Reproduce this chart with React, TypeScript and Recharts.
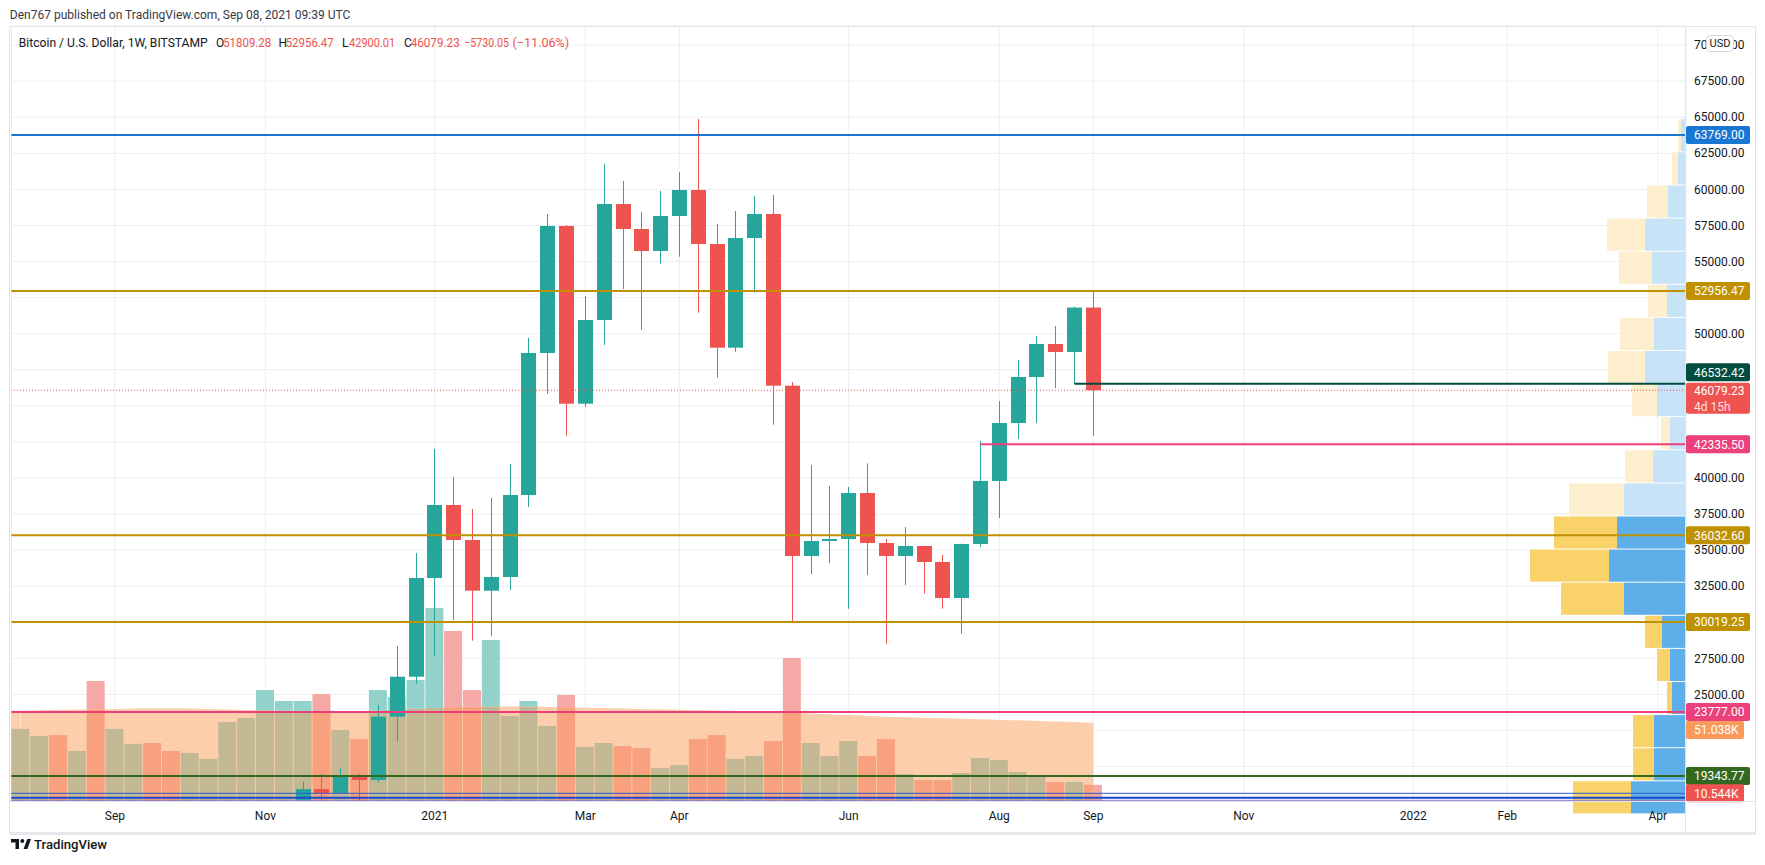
import React from 'react';
import { ComposedChart, Bar, Area, XAxis, YAxis, CartesianGrid, ReferenceLine, ReferenceArea } from 'recharts';

const WEEKS = ['2020-08-03','2020-08-10','2020-08-17','2020-08-24','2020-08-31','2020-09-07','2020-09-14','2020-09-21','2020-09-28','2020-10-05','2020-10-12','2020-10-19','2020-10-26','2020-11-02','2020-11-09','2020-11-16','2020-11-23','2020-11-30','2020-12-07','2020-12-14','2020-12-21','2020-12-28','2021-01-04','2021-01-11','2021-01-18','2021-01-25','2021-02-01','2021-02-08','2021-02-15','2021-02-22','2021-03-01','2021-03-08','2021-03-15','2021-03-22','2021-03-29','2021-04-05','2021-04-12','2021-04-19','2021-04-26','2021-05-03','2021-05-10','2021-05-17','2021-05-24','2021-05-31','2021-06-07','2021-06-14','2021-06-21','2021-06-28','2021-07-05','2021-07-12','2021-07-19','2021-07-26','2021-08-02','2021-08-09','2021-08-16','2021-08-23','2021-08-30','2021-09-06'];
const FUTURE_WEEKS = ['2021-09-13','2021-09-20','2021-09-27','2021-10-04','2021-10-11','2021-10-18','2021-10-25','2021-11-01','2021-11-08','2021-11-15','2021-11-22','2021-11-29','2021-12-06','2021-12-13','2021-12-20','2021-12-27','2022-01-03','2022-01-10','2022-01-17','2022-01-24','2022-01-31','2022-02-07','2022-02-14','2022-02-21','2022-02-28','2022-03-07','2022-03-14','2022-03-21','2022-03-28','2022-04-04','2022-04-11'];

const OPEN = [11070,11680,11850,11650,11700,10250,10330,10930,10770,10680,11380,11500,13030,13780,15480,15960,18445,18170,19330,19068,23455,26227,33067,38126,35701,32187,33136,38819,48660,57461,45146,50947,58986,57253,55728,58154,59956,56214,49027,56629,58293,46394,34592,35631,35770,38958,35492,34592,35285,34176,31681,35423,39789,43809,46997,49283,48729,51809.28];
const HIGH = [11900,12090,12470,11800,12090,10600,11050,10990,10950,11480,11730,13350,14060,15960,16480,18930,19485,19900,19485,24266,28355,34800,42007,40067,37848,38611,40967,49700,58292,57530,52610,61758,60580,58431,59894,61203,64876,57600,58500,59540,59609,46650,40898,39443,39373,41014,35770,36601,35300,34661,35450,42561,45332,48175,49838,50531,51870,52956.47];
const LOW = [10950,11150,11420,11130,9880,9880,10220,10140,10370,10530,11200,11410,12900,13220,14850,15800,16200,18100,17600,18880,21770,25742,27662,30157,28722,29048,32235,37988,45839,42929,44938,49214,53095,50254,54848,55333,51453,46948,48750,52839,43691,30039,33345,34106,30939,33275,28514,32582,31998,30939,29207,35215,37225,42700,43809,46234,46532,42900.01];
const CLOSE = [11680,11850,11650,11700,10250,10330,10930,10770,10680,11380,11500,13030,13780,15480,15960,18445,18170,19330,19068,23455,26227,33067,38126,35701,32187,33136,38819,48660,57461,45146,50947,58986,57253,55728,58154,59956,56214,49027,56629,58293,46394,34592,35631,35770,38958,35492,34592,35285,34176,31681,35423,39789,43809,46997,49283,48729,51809.28,46079.23];
// weekly volume, thousands
const VOLUME = [47.1,42.5,43.1,32.7,78.4,47.1,37.3,37.9,32.7,31.4,27.5,51.6,54.2,72.5,65.4,65.4,69.9,46.4,40.5,72.5,68.0,79.1,126.1,111.1,72.5,105.2,55.6,65.4,49.0,69.3,35.3,37.9,35.9,34.6,21.6,23.5,40.5,43.1,27.5,29.4,39.2,93.5,37.9,29.4,39.2,29.4,40.5,17.6,13.7,13.7,18.3,28.1,26.8,19.0,16.3,12.4,12.4,10.544];
const VOLUME_MA = [59.0,59.3,59.6,59.8,60.0,60.2,60.4,60.6,60.6,60.5,60.2,59.8,59.5,59.2,59.0,58.8,58.6,58.5,58.6,59.0,59.6,60.2,60.8,61.3,61.6,61.8,61.8,61.7,61.5,61.3,61.0,60.7,60.4,60.1,59.9,59.7,59.5,59.1,58.8,58.4,58.0,57.7,57.2,56.7,56.2,55.7,55.1,54.8,54.4,54.1,53.8,53.4,53.0,52.7,52.3,52.0,51.6,51.038];

const TICK_LABELS: Record<string, string> = {
  '2020-09-07': 'Sep', '2020-11-02': 'Nov', '2021-01-04': '2021', '2021-03-01': 'Mar', '2021-04-05': 'Apr', '2021-06-07': 'Jun',
  '2021-08-02': 'Aug', '2021-09-06': 'Sep', '2021-11-01': 'Nov', '2022-01-03': '2022', '2022-02-07': 'Feb', '2022-04-04': 'Apr',
};
const X_TICKS = Object.keys(TICK_LABELS);
const PRICE_TICKS = [20000,22500,25000,27500,30000,32500,35000,37500,40000,42500,45000,47500,50000,52500,55000,57500,60000,62500,65000,67500,70000];
const HIDDEN_PRICE_TICKS = [20000,22500,30000,42500,45000,47500,52500];

// visible-range volume profile: row boundaries (price), up / down volume per row
const PROFILE_LEVELS = [64893,62599,60305,58011,55717,53423,51129,48835,46541,44247,41953,39659,37365,35071,32777,30483,28189,25895,23601,21307,19013,16719];
const PROFILE_UP = [5,8,18,41,34,19,32,41,29,16,33,62,69,77,62,24,16,14,32,32,55];
const PROFILE_DOWN = [3,6,21,38,33,19,34,37,25,9,28,55,63,79,63,17,13,5,21,21,58];
const VALUE_AREA_FIRST_ROW = 12;

const LEVEL_TOP = 63769.0;
const LEVEL_WEEK_HIGH = 52956.47;
const LEVEL_RAY_HIGH = 46532.42;
const LAST_PRICE = 46079.23;
const LEVEL_RAY_LOW = 42335.5;
const LEVEL_36 = 36032.6;
const LEVEL_30 = 30019.25;
const LEVEL_23 = 23777.0;
const LEVEL_19 = 19343.77;
const LEVEL_18A = 18146;
const LEVEL_18B = 17842;
const LEVEL_17 = 17660;
const LAST_VOLUME = 10.544;
const LAST_VOLUME_MA = 51.038;

const P_MIN = 17613;
const P_MAX = 71321;
const VOL_MAX = 506.5;
const PROFILE_SPAN = 1675;

const DATA: any[] = [
  ...WEEKS.map((d, i) => ({
    d, o: OPEN[i], h: HIGH[i], l: LOW[i], c: CLOSE[i], hl: [LOW[i], HIGH[i]],
    v: VOLUME[i], ma: VOLUME_MA[i], first: i === 0, last: i === WEEKS.length - 1,
  })),
  ...FUTURE_WEEKS.map((d) => ({ d })),
];
const LAST_CAT = FUTURE_WEEKS[FUTURE_WEEKS.length - 1];

const FONT = 'Roboto, "Noto Sans", sans-serif';
const UP = '#26a69a';
const DOWN = '#ef5350';
const MA_FILL = '#fdceab';

const CandleShape = (props: any) => {
  const { x, y, width, height, payload } = props;
  if (!payload || payload.o == null || !isFinite(y) || !isFinite(height)) return <g />;
  const top = Math.min(y, y + height);
  const span = Math.abs(height);
  const k = span / (payload.h - payload.l);
  const yO = top + (payload.h - payload.o) * k;
  const yC = top + (payload.h - payload.c) * k;
  const col = payload.c >= payload.o ? UP : DOWN;
  const x0 = Math.round(x);
  const w = Math.round(width);
  const cx = x0 + Math.floor(w / 2) + 0.5;
  const bTop = Math.min(yO, yC);
  const bH = Math.max(1, Math.abs(yC - yO));
  return (
    <g>
      <line x1={cx} x2={cx} y1={top} y2={top + span} stroke={col} strokeWidth={1} />
      <rect x={x0} y={bTop} width={w} height={bH} fill={col} />
    </g>
  );
};

const VolShape = (props: any) => {
  const { x, y, width, height, payload } = props;
  if (!payload || payload.v == null || !isFinite(y) || !isFinite(height)) return <g />;
  const top = Math.min(y, y + height);
  const span = Math.abs(height);
  const base = top + span;
  const k = span / payload.v;
  const yMa = base - payload.ma * k;
  const up = payload.c >= payload.o;
  const light = up ? '#93d1cb' : '#f6a8a6';
  const dark = up ? '#c2b894' : '#f9a17e';
  const split = Math.max(top, Math.min(base, yMa));
  if (payload.last) {
    return (
      <g>
        <rect x={x} y={top} width={width / 2} height={span} fill={dark} />
        <rect x={x + width / 2} y={top} width={width / 2} height={span} fill={light} />
      </g>
    );
  }
  return (
    <g>
      {payload.first && <rect x={x - 0.5} y={yMa} width={width / 2 + 0.5} height={base - yMa} fill={MA_FILL} />}
      {split > top && <rect x={x} y={top} width={width} height={split - top} fill={light} />}
      {base > split && <rect x={x} y={split} width={width} height={base - split} fill={dark} />}
    </g>
  );
};

const ProfileRect = (p: any) => (
  <rect x={p.x} y={p.y + 0.5} width={p.width} height={Math.max(0, p.height - 1)} fill={p.fill} />
);

const Tag = (props: any) => {
  const { viewBox, text, sub, bg, dy = 0, w = 64 } = props;
  if (!viewBox) return null;
  const x = viewBox.x + viewBox.width;
  const yc = viewBox.y + dy;
  if (sub) {
    return (
      <g>
        <rect x={x} y={yc - 7.5} width={w} height={31} rx={2} fill={bg} />
        <text x={x + 8} y={yc + 4.3} fontSize={12} fontFamily={FONT} fill="#fff">{text}</text>
        <text x={x + 8} y={yc + 20.5} fontSize={12} fontFamily={FONT} fill="#fff" fillOpacity={0.85}>{sub}</text>
      </g>
    );
  }
  return (
    <g>
      <rect x={x} y={yc - 9} width={w} height={18} rx={2} fill={bg} />
      <text x={x + 8} y={yc + 4.3} fontSize={12} fontFamily={FONT} fill="#fff">{text}</text>
    </g>
  );
};

const RayShape = (p: any) => (
  <line x1={p.x1} y1={p.y1} x2={p.x2 + 9.5} y2={p.y2} stroke={p.stroke} strokeWidth={p.strokeWidth} />
);

const XTick = (props: any) => {
  const { x, payload } = props;
  return (
    <text x={x} y={820} textAnchor="middle" fontSize={12} fontFamily={FONT} fill="#131722">
      {TICK_LABELS[payload.value] || ''}
    </text>
  );
};

const YTick = (props: any) => {
  const { x, y, payload } = props;
  if (HIDDEN_PRICE_TICKS.includes(payload.value)) return <g />;
  return (
    <text x={x} y={y + 4.2} textAnchor="start" fontSize={12} fontFamily={FONT} fill="#131722">
      {Number(payload.value).toFixed(2)}
    </text>
  );
};

function Overlay() {
  const t = { fontFamily: FONT, fontSize: 12 } as any;
  return (
    <svg width={1765} height={865} style={{ position: 'absolute', left: 0, top: 0, pointerEvents: 'none' }}>
      <text x={9.8} y={19} {...t} fontSize={12.5} fill="#363a45" textLength={340.6} lengthAdjust="spacingAndGlyphs">
        Den767 published on TradingView.com, Sep 08, 2021 09:39 UTC
      </text>
      <line x1={9} y1={26.5} x2={1756} y2={26.5} stroke="#e0e3eb" />
      <line x1={9.5} y1={26} x2={9.5} y2={833} stroke="#e0e3eb" />
      <line x1={1755.5} y1={26} x2={1755.5} y2={833} stroke="#e0e3eb" />
      <line x1={9} y1={801.5} x2={1756} y2={801.5} stroke="#e0e3eb" />
      <line x1={1685.5} y1={26} x2={1685.5} y2={832} stroke="#e0e3eb" />
      <rect x={9} y={832} width={1747} height={3} fill="#e6e8ed" />

      <text x={18.75} y={47} {...t} fill="#131722" textLength={189} lengthAdjust="spacingAndGlyphs">Bitcoin / U.S. Dollar, 1W, BITSTAMP</text>
      <text x={216} y={47} {...t} fill="#131722">O</text>
      <text x={223.2} y={47} {...t} fill={DOWN} textLength={48} lengthAdjust="spacingAndGlyphs">51809.28</text>
      <text x={278.6} y={47} {...t} fill="#131722">H</text>
      <text x={285.7} y={47} {...t} fill={DOWN} textLength={48} lengthAdjust="spacingAndGlyphs">52956.47</text>
      <text x={342} y={47} {...t} fill="#131722">L</text>
      <text x={349.1} y={47} {...t} fill={DOWN} textLength={46} lengthAdjust="spacingAndGlyphs">42900.01</text>
      <text x={404} y={47} {...t} fill="#131722">C</text>
      <text x={410.7} y={47} {...t} fill={DOWN} textLength={49} lengthAdjust="spacingAndGlyphs">46079.23</text>
      <text x={464.3} y={47} {...t} fill={DOWN} textLength={44.6} lengthAdjust="spacingAndGlyphs">−5730.05</text>
      <text x={512.5} y={47} {...t} fill={DOWN} textLength={56.7} lengthAdjust="spacingAndGlyphs">(−11.06%)</text>

      <rect x={1706.5} y={35.5} width={27} height={16} rx={4} fill="#ffffff" stroke="#d1d4dc" />
      <text x={1720} y={47.3} textAnchor="middle" fontFamily={FONT} fontSize={11} fill="#131722">USD</text>

      <g fill="#131722">
        <path d="M11 839 H19 V849 H15.5 V842.5 H11 Z" />
        <circle cx={22.3} cy={841} r={2} />
        <path d="M23.6 849 L27.2 839 H31 L27.4 849 Z" />
      </g>
      <text x={34} y={848.5} fontFamily={FONT} fontSize={13} fontWeight={500} fill="#131722" textLength={73} lengthAdjust="spacingAndGlyphs">TradingView</text>
    </svg>
  );
}

export default function App() {
  return (
    <div style={{ position: 'absolute', left: 0, top: 0, width: 1765, height: 865, background: '#ffffff', overflow: 'hidden' }}>
      <div style={{ position: 'absolute', left: 0, top: 0 }}>
        <ComposedChart width={1765} height={865} data={DATA} margin={{ top: 26, right: 10, bottom: 33, left: 11.4 }}>
          <CartesianGrid xAxisId="x" yAxisId="price" stroke="#eceef2" strokeWidth={1} />
          <XAxis xAxisId="x" dataKey="d" ticks={X_TICKS} interval={0} tick={XTick} tickLine={false} axisLine={false} height={31} />
          <XAxis xAxisId="v" dataKey="d" hide />
          <XAxis xAxisId="prof" dataKey="profileVolume" type="number" domain={[0, PROFILE_SPAN]} reversed allowDataOverflow hide />
          <YAxis yAxisId="price" orientation="right" domain={[P_MIN, P_MAX]} allowDataOverflow ticks={PRICE_TICKS} interval={0}
            tick={YTick} tickLine={false} tickSize={0} tickMargin={8} axisLine={false} width={69} />
          <YAxis yAxisId="vol" domain={[0, VOL_MAX]} allowDataOverflow hide />

          <Area xAxisId="v" yAxisId="vol" dataKey="ma" type="monotone" fill={MA_FILL} fillOpacity={1} stroke="none" isAnimationActive={false} dot={false} activeDot={false} />
          <Bar xAxisId="v" yAxisId="vol" dataKey="v" barSize={18} shape={VolShape} isAnimationActive={false} />
          <Bar xAxisId="x" yAxisId="price" dataKey="hl" barSize={15} shape={CandleShape} isAnimationActive={false} />

          {PROFILE_UP.map((u, i) => (
            <ReferenceArea key={'pu' + i} xAxisId="prof" yAxisId="price" x1={0} x2={u}
              y1={PROFILE_LEVELS[i + 1]} y2={PROFILE_LEVELS[i]} ifOverflow="hidden"
              fill={i >= VALUE_AREA_FIRST_ROW ? '#5eaeea' : '#c7e3f7'} fillOpacity={1} stroke="none" shape={ProfileRect} />
          ))}
          {PROFILE_DOWN.map((dn, i) => (
            <ReferenceArea key={'pd' + i} xAxisId="prof" yAxisId="price" x1={PROFILE_UP[i]} x2={PROFILE_UP[i] + dn}
              y1={PROFILE_LEVELS[i + 1]} y2={PROFILE_LEVELS[i]} ifOverflow="hidden"
              fill={i >= VALUE_AREA_FIRST_ROW ? '#f9d36a' : '#fdefcd'} fillOpacity={1} stroke="none" shape={ProfileRect} />
          ))}

          <ReferenceLine xAxisId="x" yAxisId="price" y={LEVEL_18A} stroke="#2a5bd0" strokeWidth={1} zIndex={450} />
          <ReferenceLine xAxisId="x" yAxisId="price" y={LEVEL_18B} stroke="#1848cc" strokeWidth={2} zIndex={450} />
          <ReferenceLine xAxisId="x" yAxisId="price" y={LEVEL_17} stroke="#8c76c9" strokeWidth={1} zIndex={450} />
          <ReferenceLine xAxisId="x" yAxisId="price" y={LAST_PRICE} stroke={DOWN} strokeWidth={1} strokeDasharray="1 2" zIndex={450}
            label={(p: any) => <Tag {...p} text="46079.23" sub="4d 15h" bg={DOWN} />} />
          <ReferenceLine xAxisId="x" yAxisId="price" segment={[{ x: '2021-08-30', y: LEVEL_RAY_HIGH }, { x: LAST_CAT, y: LEVEL_RAY_HIGH }]}
            stroke="#004d40" strokeWidth={2} shape={RayShape} zIndex={450} />
          <ReferenceLine xAxisId="x" yAxisId="price" y={LEVEL_RAY_HIGH} stroke="none" zIndex={450}
            label={(p: any) => <Tag {...p} text="46532.42" bg="#004d40" dy={-11.4} />} />
          <ReferenceLine xAxisId="x" yAxisId="price" segment={[{ x: '2021-07-26', y: LEVEL_RAY_LOW }, { x: LAST_CAT, y: LEVEL_RAY_LOW }]}
            stroke="#ec407a" strokeWidth={2} shape={RayShape} zIndex={450} />
          <ReferenceLine xAxisId="x" yAxisId="price" y={LEVEL_RAY_LOW} stroke="none" zIndex={450}
            label={(p: any) => <Tag {...p} text="42335.50" bg="#ec407a" />} />
          <ReferenceLine xAxisId="x" yAxisId="price" y={LEVEL_TOP} stroke="#1976d2" strokeWidth={2} zIndex={450}
            label={(p: any) => <Tag {...p} text="63769.00" bg="#1976d2" />} />
          <ReferenceLine xAxisId="x" yAxisId="price" y={LEVEL_WEEK_HIGH} stroke="#bf9000" strokeWidth={2} zIndex={450}
            label={(p: any) => <Tag {...p} text="52956.47" bg="#bf9000" />} />
          <ReferenceLine xAxisId="x" yAxisId="price" y={LEVEL_36} stroke="#bf9000" strokeWidth={2} zIndex={450}
            label={(p: any) => <Tag {...p} text="36032.60" bg="#bf9000" />} />
          <ReferenceLine xAxisId="x" yAxisId="price" y={LEVEL_30} stroke="#bf9000" strokeWidth={2} zIndex={450}
            label={(p: any) => <Tag {...p} text="30019.25" bg="#bf9000" />} />
          <ReferenceLine xAxisId="x" yAxisId="price" y={LEVEL_23} stroke="#ec407a" strokeWidth={2} zIndex={450}
            label={(p: any) => <Tag {...p} text="23777.00" bg="#ec407a" />} />
          <ReferenceLine xAxisId="x" yAxisId="price" y={LEVEL_19} stroke="#33691e" strokeWidth={2} zIndex={450}
            label={(p: any) => <Tag {...p} text="19343.77" bg="#33691e" />} />
          <ReferenceLine xAxisId="v" yAxisId="vol" y={LAST_VOLUME_MA} stroke="none" zIndex={450}
            label={(p: any) => <Tag {...p} text="51.038K" bg="#fa9b5c" w={58} dy={7.1} />} />
          <ReferenceLine xAxisId="v" yAxisId="vol" y={LAST_VOLUME} stroke="none" zIndex={450}
            label={(p: any) => <Tag {...p} text="10.544K" bg={DOWN} w={58} dy={8.4} />} />
        </ComposedChart>
      </div>
      <Overlay />
    </div>
  );
}
